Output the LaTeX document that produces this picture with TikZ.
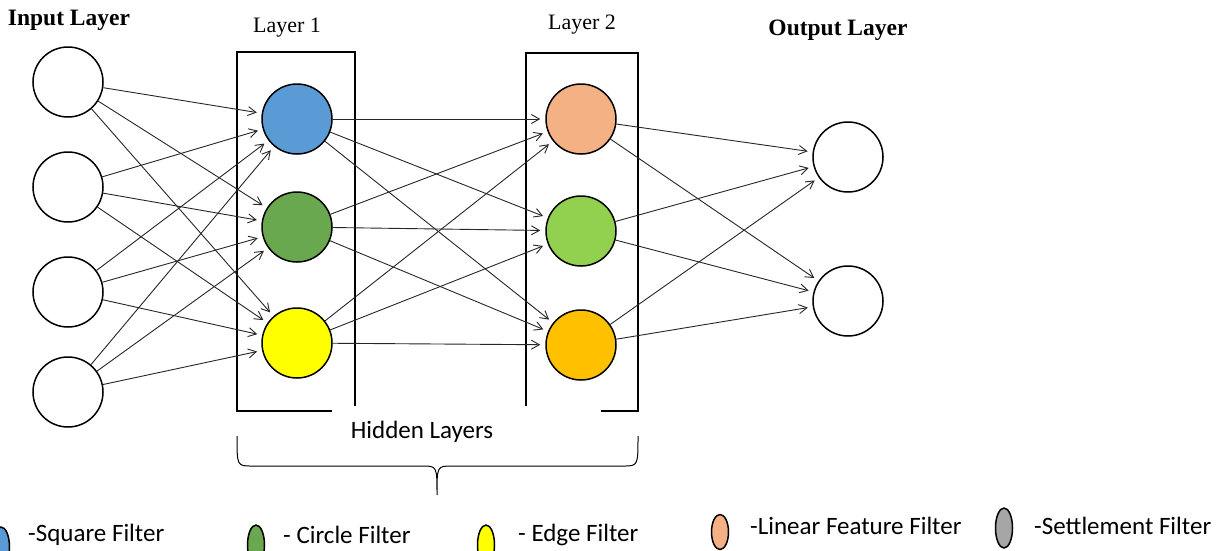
\documentclass[tikz,border=0pt]{standalone}
\usepackage{fontspec}
\setmainfont{Liberation Serif}
\newfontfamily\calib{Carlito}
\usetikzlibrary{arrows.meta,shapes.geometric}
\definecolor{nblue}{HTML}{5B9BD5}
\definecolor{ngreen}{HTML}{6AA84F}
\definecolor{nyellow}{HTML}{FFFF00}
\definecolor{nsalmon}{HTML}{F4B183}
\definecolor{nlime}{HTML}{92D050}
\definecolor{namber}{HTML}{FFC000}
\definecolor{ngrey}{HTML}{A6A6A6}
\begin{document}
\begin{tikzpicture}[x=1pt,y=-1pt,
  neuron/.style={circle,draw,line width=1.5pt,minimum size=70pt,inner sep=0pt},
  conn/.style={line width=0.9pt,draw=black!85,-{Straight Barb[length=8pt,width=9pt]},shorten >=5pt},
  frame/.style={line width=1.6pt},
  swatch/.style={ellipse,draw,line width=1.5pt,minimum width=17pt,minimum height=40pt,inner sep=0pt},
  headbold/.style={font=\fontsize{23.5}{28}\selectfont\bfseries},
  headreg/.style={font=\fontsize{22}{26}\selectfont},
  legendtext/.style={font=\calib\fontsize{25}{30}\selectfont,anchor=west,inner sep=0pt}
]
\useasboundingbox (0,0) rectangle (1231,550);
\clip (0,0) rectangle (1231,550);

% titles
\node[headbold] (tin) at (69,20) {Input Layer};
\node[headreg] (t1) at (287,28) {Layer 1};
\node[headreg] (t2) at (582,25) {Layer 2};
\node[headbold] (tout) at (838,30) {Output Layer};

% layer frames
\draw[frame] (332,411) -- (237,411) -- (237,52) -- (355,52) -- (355,406);
\draw[frame] (526,406) -- (526,53) -- (638,53) -- (638,411) -- (601,411);

% input layer
\node[neuron] (i1) at (68,82) {};
\node[neuron] (i2) at (68,187) {};
\node[neuron] (i3) at (68,292) {};
\node[neuron] (i4) at (68,392) {};

% hidden layer 1
\node[neuron,fill=nblue] (a1) at (297,119) {};
\node[neuron,fill=ngreen] (a2) at (297,227) {};
\node[neuron,fill=nyellow] (a3) at (297,343) {};

% hidden layer 2
\node[neuron,fill=nsalmon] (b1) at (581,119) {};
\node[neuron,fill=nlime] (b2) at (581,231) {};
\node[neuron,fill=namber] (b3) at (581,345) {};

% output layer
\node[neuron] (o1) at (848,157) {};
\node[neuron] (o2) at (848,301) {};

% connections
\foreach \s in {i1,i2,i3,i4}
  \foreach \t in {a1,a2,a3}
    \draw[conn] (\s) -- (\t);
\foreach \s in {a1,a2,a3}
  \foreach \t in {b1,b2,b3}
    \draw[conn] (\s) -- (\t);
\foreach \s in {b1,b2,b3}
  \foreach \t in {o1,o2}
    \draw[conn] (\s) -- (\t);

% hidden layers brace
\node[font=\calib\fontsize{25}{30}\selectfont] (hid) at (422,432) {Hidden Layers};
\coordinate (bl) at (237,436);
\coordinate (br) at (638,436);
\coordinate (btip) at (437,495);
\draw[line width=1pt] (bl) .. controls (237,466) .. (252,466) -- (422,466)
  .. controls (437,466) .. (btip) .. controls (437,466) .. (452,466)
  -- (623,466) .. controls (638,466) .. (br);

% legend
\node[swatch,fill=nblue] (k1) at (1,547) {};
\node[legendtext] (l1) at (28,535) {-Square Filter};
\node[swatch,fill=ngreen] (k2) at (256,545) {};
\node[legendtext] (l2) at (283,535) {- Circle Filter};
\node[swatch,fill=nyellow] (k3) at (486,545) {};
\node[legendtext] (l3) at (518,535) {- Edge Filter};
\node[swatch,fill=nsalmon,minimum height=35pt] (k4) at (720,532) {};
\node[legendtext] (l4) at (750,526) {-Linear Feature Filter};
\node[swatch,fill=ngrey] (k5) at (1004,528) {};
\node[legendtext] (l5) at (1034,526) {-Settlement Filter};
\end{tikzpicture}
\end{document}
